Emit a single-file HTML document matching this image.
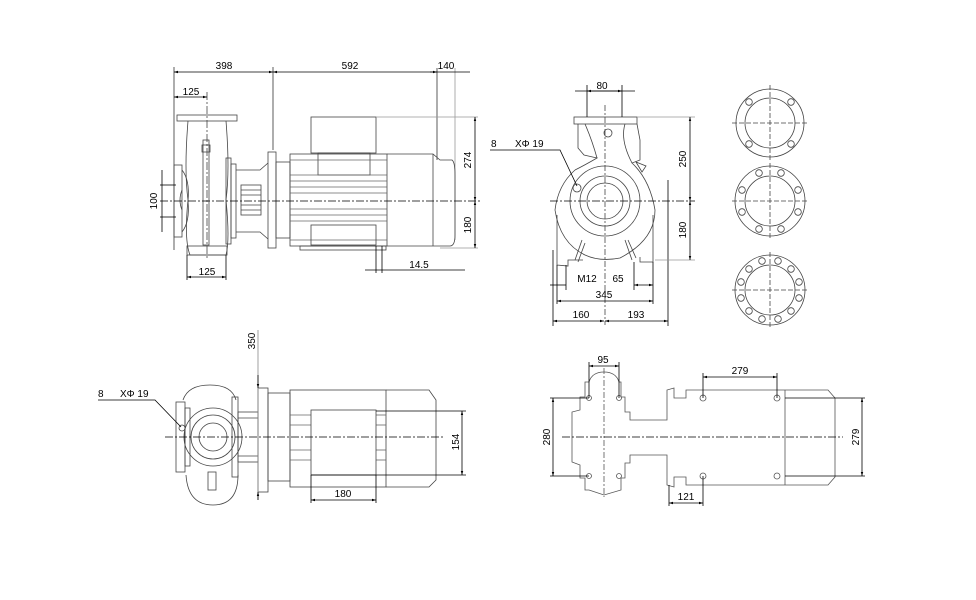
<!DOCTYPE html>
<html><head><meta charset="utf-8"><style>
html,body{margin:0;padding:0;background:#fff;}
svg{display:block;font-family:"Liberation Sans",Arial,sans-serif;}
</style></head><body>
<svg width="976" height="600" viewBox="0 0 976 600" xmlns="http://www.w3.org/2000/svg">
<defs>
<marker id="a" markerWidth="6" markerHeight="6" refX="5" refY="3" orient="auto"><path d="M0,1.5 L5,3 L0,4.5z" fill="#000"/></marker>
<marker id="b" markerWidth="6" markerHeight="6" refX="0" refY="3" orient="auto"><path d="M5,1.5 L0,3 L5,4.5z" fill="#000"/></marker>
</defs>
<g fill="none" stroke="#444" stroke-width="0.8">
<!-- ===== Top-left side view ===== -->
<line x1="174" y1="67" x2="174" y2="250" stroke="#333"/>
<line x1="273" y1="67" x2="273" y2="150" stroke="#333"/>
<line x1="437" y1="68" x2="437" y2="160" stroke="#333"/>
<line x1="455" y1="68" x2="455" y2="240" stroke="#999"/>
<line x1="207" y1="92" x2="207" y2="260" stroke-dasharray="8,2,2,2"/>
<rect x="177" y="115" width="60" height="6"/>
<path d="M188,121 Q184,170 188,200 Q184,240 190,255 L226,255 Q230,240 226,200 Q230,170 226,121"/>
<path d="M182,190 Q178,200 182,210"/>
<rect x="203" y="140" width="6" height="105"/>
<rect x="202" y="145" width="8" height="7"/>
<rect x="174" y="165" width="8" height="72"/>
<path d="M182,170 Q190,180 188,201 Q190,222 182,232"/>
<rect x="226" y="158" width="5" height="86"/>
<rect x="231" y="164" width="5" height="74"/>
<rect x="187" y="246" width="40" height="9"/>
<path d="M236,170 L260,170 L268,163 M236,232 L260,232 L268,239"/>
<rect x="241" y="185" width="20" height="30" fill="#fff"/>
<line x1="241" y1="190" x2="261" y2="190"/><line x1="241" y1="195" x2="261" y2="195"/><line x1="241" y1="205" x2="261" y2="205"/><line x1="241" y1="210" x2="261" y2="210"/>
<rect x="268" y="152" width="8" height="96"/>
<rect x="276" y="162" width="14" height="76"/>
<rect x="311" y="117" width="65" height="36"/>
<rect x="318" y="153" width="52" height="22"/>
<rect x="290" y="154" width="97" height="92"/>
<g stroke="#666">
<line x1="290" y1="160" x2="387" y2="160"/><line x1="290" y1="175" x2="387" y2="175"/><line x1="290" y1="181" x2="387" y2="181"/><line x1="290" y1="187" x2="387" y2="187"/><line x1="290" y1="193" x2="387" y2="193"/><line x1="290" y1="209" x2="387" y2="209"/><line x1="290" y1="215" x2="387" y2="215"/><line x1="290" y1="221" x2="387" y2="221"/><line x1="290" y1="240" x2="387" y2="240"/>
</g>
<rect x="311" y="225" width="65" height="20"/>
<rect x="300" y="246" width="86" height="4"/>
<path d="M387,154 L433,154 L440,160 L452,160 Q455,162 455,175 L455,235 Q455,246 450,246 L440,246 L433,246 L387,246"/>
<line x1="433" y1="154" x2="433" y2="246"/>
<line x1="376" y1="246" x2="376" y2="273" stroke="#000"/>
<line x1="382" y1="246" x2="382" y2="273" stroke="#000"/>
<!-- centre line -->
<line x1="160" y1="201" x2="480" y2="201" stroke="#000" stroke-dasharray="8,2,2,2"/>
<line x1="376" y1="117" x2="478" y2="117" stroke="#999"/>
<line x1="440" y1="248" x2="478" y2="248" stroke="#999"/>
<line x1="160" y1="185" x2="176" y2="185" stroke="#000"/>
<line x1="160" y1="217" x2="176" y2="217" stroke="#000"/>
<line x1="187" y1="255" x2="187" y2="280" stroke="#000"/>
<line x1="226" y1="255" x2="226" y2="280" stroke="#000"/>
</g>
<g stroke="#000" stroke-width="0.8" fill="none">
<line x1="174" y1="72" x2="273" y2="72" marker-start="url(#b)" marker-end="url(#a)"/>
<line x1="273" y1="72" x2="437" y2="72" marker-start="url(#b)" marker-end="url(#a)"/>
<line x1="430" y1="72" x2="470" y2="72"/>
<line x1="174" y1="97" x2="207" y2="97" marker-start="url(#b)" marker-end="url(#a)"/>
<line x1="162" y1="170" x2="162" y2="232"/>
<line x1="475" y1="117" x2="475" y2="201" marker-start="url(#b)" marker-end="url(#a)"/>
<line x1="475" y1="201" x2="475" y2="248" marker-start="url(#b)" marker-end="url(#a)"/>
<line x1="365" y1="270" x2="465" y2="270"/>
<line x1="187" y1="277" x2="226" y2="277" marker-start="url(#b)" marker-end="url(#a)"/>
</g>
<g font-size="10" fill="#000">
<text x="224" y="69" text-anchor="middle">398</text>
<text x="350" y="69" text-anchor="middle">592</text>
<text x="446" y="69" text-anchor="middle">140</text>
<text x="191" y="95" text-anchor="middle">125</text>
<text x="207" y="275" text-anchor="middle">125</text>
<text x="419" y="268" text-anchor="middle">14.5</text>
<text transform="translate(157,201) rotate(-90)" text-anchor="middle">100</text>
<text transform="translate(471,160) rotate(-90)" text-anchor="middle">274</text>
<text transform="translate(471,225) rotate(-90)" text-anchor="middle">180</text>
</g>

<!-- ===== Top-right end view ===== -->
<g fill="none" stroke="#444" stroke-width="0.8">
<line x1="605" y1="105" x2="605" y2="325" stroke-dasharray="6,2,2,2"/>
<rect x="574" y="117" width="63" height="7"/>
<line x1="587" y1="85" x2="587" y2="117" stroke="#000"/>
<line x1="622" y1="85" x2="622" y2="117" stroke="#000"/>
<path d="M578,124 L578,148 L584,155 L597,158 Q585,165 575,170"/>
<path d="M637,124 L640,140 L640,160 L632,163 Q650,180 655,210 Q655,240 620,258 Q600,262 585,255 Q560,243 555,210 Q558,185 575,170"/>
<path d="M625,124 Q620,140 632,163"/>
<path d="M585,124 Q592,140 597,158"/>
<circle cx="608" cy="133" r="4"/>
<circle cx="605" cy="201" r="35"/>
<circle cx="605" cy="201" r="25"/>
<circle cx="605" cy="201" r="18"/>
<circle cx="577" cy="188" r="4"/>
<path d="M636,162 L646,166 L642,172z"/>
<path d="M557,215 L557,265 L568,266 L568,260 L583,260 M653,215 L653,262 L640,262 L640,257"/>
<line x1="582" y1="240" x2="575" y2="260"/><line x1="585" y1="243" x2="578" y2="262"/>
<line x1="625" y1="240" x2="632" y2="260"/><line x1="628" y1="240" x2="636" y2="258"/>
<line x1="553" y1="250" x2="553" y2="326" stroke="#000"/>
<line x1="557" y1="265" x2="557" y2="304" stroke="#000"/>
<line x1="566" y1="265" x2="566" y2="290" stroke="#000"/>
<line x1="634" y1="262" x2="634" y2="290" stroke="#000"/>
<line x1="653" y1="262" x2="653" y2="304" stroke="#000"/>
<line x1="668" y1="180" x2="668" y2="326" stroke="#000"/>
<line x1="550" y1="201" x2="695" y2="201" stroke="#000" stroke-dasharray="8,2,2,2"/>
<line x1="637" y1="117" x2="695" y2="117" stroke="#999"/>
<line x1="655" y1="260" x2="695" y2="260" stroke="#999"/>
</g>
<g stroke="#000" stroke-width="0.8" fill="none">
<line x1="575" y1="91" x2="635" y2="91"/>
<line x1="587" y1="91" x2="622" y2="91" marker-start="url(#b)" marker-end="url(#a)"/>
<line x1="690" y1="117" x2="690" y2="201" marker-start="url(#b)" marker-end="url(#a)"/>
<line x1="690" y1="201" x2="690" y2="260" marker-start="url(#b)" marker-end="url(#a)"/>
<polyline points="490,150 560,150 577,186"/>
<line x1="550" y1="285" x2="566" y2="285"/>
<line x1="634" y1="285" x2="653" y2="285" marker-start="url(#b)" marker-end="url(#a)"/>
<line x1="557" y1="301" x2="653" y2="301" marker-start="url(#b)" marker-end="url(#a)"/>
<line x1="553" y1="321" x2="604" y2="321" marker-start="url(#b)" marker-end="url(#a)"/>
<line x1="605" y1="321" x2="668" y2="321" marker-start="url(#b)" marker-end="url(#a)"/>
</g>
<g font-size="10" fill="#000">
<text x="602" y="89" text-anchor="middle">80</text>
<text x="491" y="147">8</text>
<text x="515" y="147">XΦ 19</text>
<text x="587" y="282" text-anchor="middle">M12</text>
<text x="618" y="282" text-anchor="middle">65</text>
<text x="604" y="298" text-anchor="middle">345</text>
<text x="581" y="318" text-anchor="middle">160</text>
<text x="636" y="318" text-anchor="middle">193</text>
<text transform="translate(686,159) rotate(-90)" text-anchor="middle">250</text>
<text transform="translate(686,230) rotate(-90)" text-anchor="middle">180</text>
</g>

<!-- ===== Flange circles ===== -->
<g fill="none" stroke="#444" stroke-width="0.8">
<g transform="translate(770,123)">
<circle r="34"/><circle r="25"/>
<line x1="-38" y1="0" x2="38" y2="0" stroke-dasharray="5,2"/><line x1="0" y1="-38" x2="0" y2="38" stroke-dasharray="5,2"/>
<circle cx="-21" cy="-21" r="3.3"/><circle cx="21" cy="-21" r="3.3"/><circle cx="-21" cy="21" r="3.3"/><circle cx="21" cy="21" r="3.3"/>
</g>
<g transform="translate(770,201)">
<circle r="35"/><circle r="25"/>
<line x1="-38" y1="0" x2="38" y2="0" stroke-dasharray="5,2"/><line x1="0" y1="-38" x2="0" y2="38" stroke-dasharray="5,2"/>
<circle cx="-11" cy="-28" r="3.3"/><circle cx="11" cy="-28" r="3.3"/><circle cx="-28" cy="-11" r="3.3"/><circle cx="28" cy="-11" r="3.3"/>
<circle cx="-28" cy="11" r="3.3"/><circle cx="28" cy="11" r="3.3"/><circle cx="-11" cy="28" r="3.3"/><circle cx="11" cy="28" r="3.3"/>
</g>
<g transform="translate(770,290)">
<circle r="35"/><circle r="25"/>
<line x1="-38" y1="0" x2="38" y2="0" stroke-dasharray="5,2"/><line x1="0" y1="-38" x2="0" y2="38" stroke-dasharray="5,2"/>
<circle cx="-8" cy="-29" r="3.3"/><circle cx="8" cy="-29" r="3.3"/><circle cx="-21" cy="-21" r="3.3"/><circle cx="21" cy="-21" r="3.3"/>
<circle cx="-29" cy="-8" r="3.3"/><circle cx="29" cy="-8" r="3.3"/><circle cx="-29" cy="8" r="3.3"/><circle cx="29" cy="8" r="3.3"/>
<circle cx="-21" cy="21" r="3.3"/><circle cx="21" cy="21" r="3.3"/><circle cx="-8" cy="29" r="3.3"/><circle cx="8" cy="29" r="3.3"/>
</g>
</g>

<!-- ===== Bottom-left top view ===== -->
<g fill="none" stroke="#444" stroke-width="0.8">
<path d="M183,400 Q188,385 210,385 Q232,385 236,400"/>
<path d="M186,475 Q188,505 213,505 Q238,505 238,475"/>
<rect x="176" y="402" width="9" height="70"/>
<rect x="185" y="408" width="5" height="58"/>
<rect x="232" y="397" width="6" height="80"/>
<circle cx="213" cy="437" r="29"/>
<circle cx="213" cy="437" r="22"/>
<circle cx="213" cy="437" r="14"/>
<circle cx="182" cy="428" r="3"/>
<rect x="208" y="472" width="8" height="18"/>
<rect x="238" y="412" width="20" height="50"/>
<line x1="238" y1="418" x2="258" y2="418"/><line x1="238" y1="456" x2="258" y2="456"/>
<rect x="258" y="388" width="10" height="104"/>
<rect x="268" y="393" width="22" height="88"/>
<rect x="290" y="390" width="96" height="97"/>
<g stroke="#666">
<line x1="290" y1="415" x2="311" y2="415"/><line x1="290" y1="425" x2="311" y2="425"/><line x1="290" y1="450" x2="311" y2="450"/><line x1="290" y1="460" x2="311" y2="460"/>
<line x1="376" y1="415" x2="386" y2="415"/><line x1="376" y1="425" x2="386" y2="425"/><line x1="376" y1="450" x2="386" y2="450"/><line x1="376" y1="460" x2="386" y2="460"/>
</g>
<rect x="311" y="410" width="65" height="65"/>
<path d="M386,390 L429,390 L436,400 L436,480 L429,487 L386,487"/>
<line x1="258" y1="330" x2="258" y2="500" stroke="#888"/>
<line x1="311" y1="475" x2="311" y2="503" stroke="#000"/>
<line x1="376" y1="475" x2="376" y2="503" stroke="#000"/>
<line x1="376" y1="411" x2="466" y2="411" stroke="#000"/>
<line x1="311" y1="475" x2="466" y2="475" stroke="#000"/>
<line x1="165" y1="437" x2="445" y2="437" stroke="#000" stroke-dasharray="8,2,2,2"/>
</g>
<g stroke="#000" stroke-width="0.8" fill="none">
<line x1="258" y1="375" x2="258" y2="388" marker-end="url(#a)"/>
<line x1="258" y1="500" x2="258" y2="492" marker-end="url(#a)"/>
<line x1="462" y1="411" x2="462" y2="475" marker-start="url(#b)" marker-end="url(#a)"/>
<line x1="311" y1="500" x2="376" y2="500" marker-start="url(#b)" marker-end="url(#a)"/>
<polyline points="98,400 155,400 181,427"/>
</g>
<g font-size="10" fill="#000">
<text x="98" y="397">8</text>
<text x="120" y="397">XΦ 19</text>
<text x="343" y="497" text-anchor="middle">180</text>
<text transform="translate(255,341) rotate(-90)" text-anchor="middle">350</text>
<text transform="translate(459,442) rotate(-90)" text-anchor="middle">154</text>
</g>

<!-- ===== Bottom-right base view ===== -->
<g fill="none" stroke="#555" stroke-width="0.8">
<path d="M589,382 Q592,372 604,372 Q616,372 619,382 L621,382 L621,397 L625,397 L625,412 L630,412 L630,420 L667,420 L667,390 L674,388 L674,398 L686,398 L686,390 L828,390 L835,398 L835,477 L828,485 L686,485 L686,477 L674,477 L674,487 L667,485 L667,455 L630,455 L630,463 L625,463 L625,478 L621,478 L621,490 L604,495 L589,490 L585,490 L585,478 L580,478 L580,465 L572,462 L572,412 L580,410 L580,397 L585,397 L585,382 Z"/>
<line x1="785" y1="390" x2="785" y2="485"/>
<line x1="604" y1="368" x2="604" y2="497" stroke-dasharray="6,2,2,2"/>
<g>
<circle cx="589" cy="398" r="2.5"/><circle cx="619" cy="398" r="2.5"/><circle cx="589" cy="476" r="2.5"/><circle cx="619" cy="476" r="2.5"/>
<circle cx="703" cy="398" r="3"/><circle cx="777" cy="398" r="3"/><circle cx="703" cy="476" r="3"/><circle cx="777" cy="476" r="3"/>
</g>
<line x1="589" y1="362" x2="589" y2="398" stroke="#000"/>
<line x1="619" y1="362" x2="619" y2="398" stroke="#000"/>
<line x1="703" y1="373" x2="703" y2="398" stroke="#000"/>
<line x1="777" y1="373" x2="777" y2="398" stroke="#000"/>
<line x1="550" y1="398" x2="589" y2="398" stroke="#000"/>
<line x1="550" y1="476" x2="589" y2="476" stroke="#000"/>
<line x1="785" y1="398" x2="865" y2="398" stroke="#000"/>
<line x1="785" y1="476" x2="865" y2="476" stroke="#000"/>
<line x1="669" y1="485" x2="669" y2="506" stroke="#000"/>
<line x1="703" y1="476" x2="703" y2="506" stroke="#000"/>
<line x1="562" y1="437" x2="843" y2="437" stroke="#000" stroke-dasharray="8,2,2,2"/>
</g>
<g stroke="#000" stroke-width="0.8" fill="none">
<line x1="589" y1="366" x2="619" y2="366" marker-start="url(#b)" marker-end="url(#a)"/>
<line x1="703" y1="377" x2="777" y2="377" marker-start="url(#b)" marker-end="url(#a)"/>
<line x1="553" y1="398" x2="553" y2="476" marker-start="url(#b)" marker-end="url(#a)"/>
<line x1="862" y1="398" x2="862" y2="476" marker-start="url(#b)" marker-end="url(#a)"/>
<line x1="669" y1="503" x2="703" y2="503" marker-start="url(#b)" marker-end="url(#a)"/>
</g>
<g font-size="10" fill="#000">
<text x="603" y="363" text-anchor="middle">95</text>
<text x="740" y="374" text-anchor="middle">279</text>
<text x="686" y="500" text-anchor="middle">121</text>
<text transform="translate(550,437) rotate(-90)" text-anchor="middle">280</text>
<text transform="translate(859,437) rotate(-90)" text-anchor="middle">279</text>
</g>
</svg>
</body></html>
